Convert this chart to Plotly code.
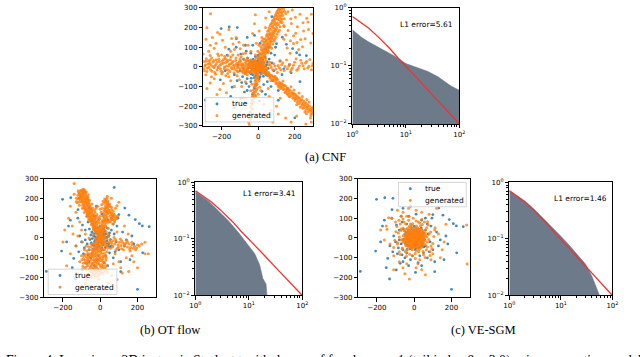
import plotly.graph_objects as go

W, H = 640, 357

# ---- scatter samples (x, y) ----
# the "true" samples are the same in all three panels
true_pts = [
    (5, 3), (-8, 12), (12, -6), (-15, -10), (20, 15), (-3, -22), (25, -2), (-25, 5), (8, 28), (-12, -30),
    (30, 20), (-30, -18), (15, -35), (-20, 25), (35, -15), (-35, 10), (2, 40), (-5, -42), (40, 5), (-42, -3),
    (18, 45), (-28, 38), (45, -30), (-40, -35), (10, -50), (-50, 15), (50, 25), (-15, 52), (28, -48), (-48, -25),
    (55, -8), (-55, -8), (0, 58), (6, -60), (-22, -55), (60, 40), (38, 50), (-58, 45), (52, -45), (-38, -58),
    (3, -12), (-6, 6), (14, 9), (-18, -2), (9, -18), (22, -20), (-10, 18), (17, 27), (-26, -12), (33, 3),
    (-33, 22), (26, 36), (-14, -45), (42, -40), (-45, 30), (47, 12), (-4, 30), (12, -28), (-30, -40), (36, -30),
    (-65, 80), (-80, 40), (90, 60), (60, 100), (-30, 110), (10, 120), (-120, 100), (-60, -60), (30, -90), (110, -120),
    (-10, -90), (-110, 10), (-100, -20), (-130, -40), (-90, -80), (-50, -100), (-30, -140), (40, -140), (70, -100),
    (100, -60), (130, -40), (60, -40), (120, 30), (140, -10), (-75, -128), (21, -125), (-70, -30), (-85, -50),
    (-60, -120), (-40, -75), (-20, -110), (80, -70), (75, 20), (85, -20), (-95, 65), (-70, 110), (50, -75),
    (-115, -70), (-65, -85), (95, 100), (40, 90), (-40, 70), (70, 70), (-80, -10),
    (-202, 195), (-158, 203), (-114, 200), (75, 255), (132, 151), (-119, 143), (154, 115), (100, 118), (188, 93),
    (263, 57), (226, 61), (210, 72), (-207, -66), (-142, -103), (-96, -161), (-132, -207), (-289, -169),
    (200, -259), (228, -75), (7, -174), (-160, 90), (-170, 60), (-60, 150), (-20, 160), (170, 10), (160, -110),
    (-150, -150), (110, -170), (-180, -20), (180, -30),
]

cnf_pts = [
    # up-right wedge
    (3, 8), (12, 14), (-4, 22), (9, 27), (18, 24), (6, 38), (21, 36), (14, 47), (27, 44), (2, 52), (19, 58),
    (33, 55), (11, 66), (26, 69), (38, 63), (22, 78), (35, 83), (44, 74), (17, 88), (41, 92), (29, 97), (52, 88),
    (37, 106), (48, 102), (24, 112), (58, 110), (43, 119), (33, 127), (55, 124), (64, 118), (47, 135), (61, 139),
    (38, 143), (70, 131), (53, 151), (66, 148), (77, 142), (45, 158), (59, 163), (73, 157), (82, 168), (64, 174),
    (52, 181), (79, 183), (88, 176), (69, 192), (91, 194), (60, 199), (76, 205), (97, 188), (84, 214), (70, 220),
    (99, 209), (89, 228), (104, 224), (78, 236), (95, 242), (112, 238), (86, 251), (103, 257), (118, 250),
    (96, 266), (110, 271), (125, 262), (104, 283), (121, 288), (132, 279), (115, 296), (138, 294), (127, 274),
    (31, 18), (42, 31), (8, 71), (15, 101), (28, 140), (56, 78), (74, 95), (86, 130), (97, 151), (109, 178),
    (120, 204), (131, 226), (143, 245), (150, 271),
    (7, 18), (15, 33), (24, 29), (10, 46), (30, 50), (18, 66), (33, 72), (47, 81), (26, 87), (43, 99), (57, 96),
    (31, 117), (51, 113), (67, 128), (42, 130), (57, 143), (74, 149), (49, 166), (67, 162), (84, 158), (58, 186),
    (75, 170), (93, 182), (66, 210), (83, 199), (102, 196), (77, 226), (94, 219), (111, 214), (86, 240),
    (105, 246), (121, 226), (92, 258), (114, 262), (129, 244), (100, 275), (117, 279), (134, 262), (110, 292),
    (128, 298), (144, 283), (124, 236), (139, 210), (116, 186), (103, 166), (90, 140), (80, 116), (66, 104),
    (52, 72), (40, 45), (-10, 45), (-2, 80), (5, 110), (20, 130), (-15, 60),
    # upper right spray
    (158, 96), (176, 133), (163, 185), (193, 158), (214, 204), (232, 139), (248, 183), (272, 228), (265, 247),
    (203, 252), (181, 221), (151, 162), (242, 102), (287, 121), (221, 88), (193, 119), (142, 205), (162, 281),
    (291, 268), (174, 69), (205, 171), (256, 143), (228, 268), (275, 190), (186, 290), (299, 170), (212, 124),
    (140, 140), (245, 225), (178, 245),
    # left arm
    (-6, 4), (-13, -6), (-19, 9), (-24, -2), (-31, 14), (-36, -9), (-42, 5), (-47, 19), (-53, -4), (-58, 11),
    (-64, -14), (-69, 24), (-73, 3), (-79, -7), (-84, 16), (-91, 6), (-96, -18), (-102, 27), (-107, 9),
    (-113, -5), (-118, 19), (-124, 33), (-129, -12), (-135, 8), (-141, 22), (-146, -3), (-152, 36), (-157, 14),
    (-163, -16), (-168, 27), (-174, 5), (-179, 41), (-185, -9), (-191, 18), (-196, 30), (-202, -22), (-208, 8),
    (-214, 39), (-219, -4), (-225, 23), (-231, 12), (-237, -28), (-243, 33), (-248, 2), (-254, 45), (-260, -14),
    (-265, 19), (-271, 30), (-277, -6), (-283, 41), (-288, 11), (-294, -20), (-298, 28), (-27, 21), (-39, -21),
    (-51, 29), (-61, -27), (-76, 36), (-88, -24), (-99, 40), (-110, -25), (-121, 45), (-132, -30), (-149, 50),
    (-166, -33), (-183, 53), (-199, -35), (-216, 55), (-233, -38), (-262, 58), (-286, -40), (-16, 30),
    (-44, -30), (-71, -35), (-93, 52), (-138, 60), (-177, -45), (-221, 66), (-255, -50), (-8, -14), (-21, -18),
    (-34, 26), (-57, 33), (-82, -31),
    (-10, -3), (-16, 12), (-27, -6), (-33, 7), (-45, -4), (-49, 12), (-56, 3), (-62, -6), (-67, 15), (-76, -12),
    (-81, 8), (-87, -4), (-93, 14), (-100, -8), (-105, 20), (-112, 2), (-117, -20), (-123, 10), (-131, 1),
    (-137, 28), (-143, -9), (-149, 16), (-155, -24), (-161, 4), (-167, 34), (-172, -14), (-178, 22), (-184, 0),
    (-189, 38), (-194, -26), (-201, 16), (-206, -10), (-212, 27), (-218, 0), (-224, -16), (-229, 36), (-236, 5),
    (-241, -4), (-247, 24), (-252, -22), (-258, 10), (-263, 35), (-269, -2), (-274, 13), (-280, -24), (-286, 29),
    (-291, 4), (-297, -8), (-20, -26), (-35, -30), (-50, -25), (-64, 33), (-40, 36), (-80, -20), (-95, 30),
    (-60, -20), (-30, 30), (-70, -25),
    # down-right arm
    (8, -9), (15, -5), (19, -17), (26, -13), (31, -26), (38, -20), (44, -36), (49, -27), (55, -45), (61, -37),
    (66, -52), (72, -43), (77, -63), (83, -52), (88, -70), (94, -62), (99, -79), (105, -66), (110, -88),
    (116, -78), (121, -96), (127, -84), (132, -104), (138, -93), (143, -113), (149, -99), (154, -120),
    (160, -108), (165, -131), (171, -116), (176, -138), (182, -127), (187, -146), (193, -134), (198, -155),
    (204, -141), (209, -163), (215, -150), (220, -172), (226, -158), (231, -179), (237, -166), (242, -190),
    (248, -174), (253, -198), (259, -183), (264, -207), (270, -192), (275, -216), (281, -200), (286, -226),
    (292, -211), (297, -236), (23, -31), (47, -14), (69, -71), (92, -48), (113, -104), (135, -72), (157, -138),
    (179, -101), (201, -171), (223, -133), (244, -210), (266, -166), (288, -247), (210, -193), (255, -229),
    (278, -178), (241, -150), (196, -118), (168, -150), (285, -260), (263, -238), (299, -205), (146, -130),
    (124, -110), (230, -205),
    (13, -15), (22, -8), (34, -31), (41, -14), (52, -41), (58, -28), (64, -58), (75, -48), (81, -71), (90, -55),
    (97, -85), (102, -61), (108, -96), (119, -83), (125, -104), (131, -88), (137, -115), (144, -95), (151, -127),
    (158, -111), (163, -140), (169, -121), (175, -150), (184, -134), (190, -160), (195, -139), (202, -162),
    (207, -148), (213, -180), (219, -160), (224, -188), (233, -170), (239, -196), (246, -183), (251, -208),
    (257, -190), (262, -221), (269, -204), (274, -228), (283, -215), (289, -238), (295, -222),
    # right band
    (34, 4), (48, -8), (57, 11), (71, -3), (85, 16), (96, -12), (109, 7), (123, -15), (134, 21), (147, 2),
    (159, -10), (172, 14), (186, -6), (199, 24), (211, -17), (225, 5), (238, 19), (251, -9), (264, 28), (277, 3),
    (291, -14), (299, 17), (63, 24), (118, 30), (176, -25), (232, 34), (282, 38), (104, -28), (155, 35), (207, 42),
    (42, -2), (66, 8), (79, -14), (92, 5), (116, -4), (128, 11), (141, -18), (167, 4), (181, -14), (193, 9),
    (218, -8), (245, 6), (258, 20), (271, -6), (296, 6),
    # down arm
    (-3, -12), (-7, -24), (2, -31), (-11, -38), (-5, -47), (-14, -55), (-2, -63), (-17, -70), (-9, -79),
    (-20, -86), (-12, -95), (-23, -102), (-6, -110), (-26, -118), (-15, -126), (-29, -134), (-19, -143),
    (-32, -151), (-22, -160), (-36, -169), (-27, -178), (-33, -192), (-41, -203), (-30, -215), (-44, -228),
    (-38, -241), (-47, -256), (-42, -270), (-51, -284), (-48, -297), (4, -72), (-35, -88), (8, -104),
    (-41, -121), (-1, -139), (1, -20), (-9, -33), (-4, -54), (-13, -66), (-7, -88), (-18, -98), (-10, -117),
    (-22, -130), (-14, -148), (-26, -156), (-31, -172), (-37, -185), (-35, -212), (-41, -234), (-45, -248),
    (-49, -262),
    # core
    (0, 0), (4, -3), (-4, 3), (7, 2), (-7, -2), (2, 7), (-2, -7), (10, -6), (-10, 6), (6, 10), (-6, -10),
    (13, 1), (-13, -1), (1, 13), (-1, -13), (11, 11), (-11, -11), (15, -9), (-15, 9), (16, 6), (-16, -6),
    (5, -16), (-5, 16), (20, -4), (-20, 4), (8, 20), (-8, -20), (22, 14), (-22, -14), (18, -20), (-18, 20),
    (26, 4), (-26, -4), (25, 15), (-25, -15), (30, -10), (-30, 10), (12, 28), (-12, -28), (33, 22), (-33, -22),
    (-28, 25), (28, -25), (20, 32), (-20, -32), (38, 5), (-38, -5), (5, 36), (-5, -36), (-40, 20), (40, -20),
    (-18, 35), (18, -35),
    # sparse
    (-280, 199), (-209, 166), (-137, 117), (-84, 67), (-250, 150), (-180, 100), (-230, 120), (-150, 80),
    (-110, 60), (-60, 45), (-200, 60), (-270, 80), (-120, 150), (-80, 110), (-40, 80), (-160, 190), (-260, 270),
    (-285, 140), (-240, 95), (-195, 135), (-165, 58), (-130, 88), (-98, 92), (-70, 70), (-222, 175), (-145, 145),
    (-105, 125), (-262, 110), (-55, 110), (-300, 65),
    (-209, -115), (-173, -132), (-262, -82), (-102, -65), (-150, -70), (-60, -40), (-90, -100), (-130, -100),
    (-240, -60), (-80, -160), (-120, -190), (-190, -85), (-280, -110), (-160, -50), (-225, -140), (-115, -45),
    (-70, -75), (41, 249), (5, 182), (-20, 220), (60, 280), (20, 150), (-10, 120), (-30, 170), (40, 200),
    (-15, 265), (60, -150), (100, -200), (40, -250), (150, -260), (120, -160), (80, -280), (30, -190), (70, -220),
    (110, -240), (15, -120), (55, -110), (180, -280), (210, -250), (260, -290), (290, -280),
]

ot_pts = [
    # upper-left arm
    (-4, 6), (-12, 14), (2, 18), (-9, 27), (-18, 31), (-3, 38), (-15, 44), (-25, 40), (-10, 52), (-22, 57),
    (-31, 50), (-17, 66), (-29, 71), (-38, 64), (-21, 80), (-34, 84), (-44, 77), (-27, 93), (-40, 97), (-50, 90),
    (-33, 106), (-46, 110), (-56, 104), (-38, 119), (-52, 123), (-62, 116), (-44, 132), (-58, 136), (-68, 129),
    (-50, 145), (-64, 149), (-74, 142), (-56, 158), (-70, 162), (-80, 155), (-62, 171), (-76, 175), (-86, 168),
    (-68, 184), (-82, 188), (-92, 181), (-74, 197), (-88, 201), (-98, 194), (-80, 210), (-94, 214), (-104, 207),
    (-86, 223), (-100, 227), (-110, 220), (-92, 236), (-105, 240), (-118, 196), (-124, 178), (-112, 165),
    (-96, 150), (-85, 128), (-72, 110), (-60, 88), (-48, 68), (-36, 48), (-100, 180), (-128, 184), (-96, 233),
    (-88, 244), (-115, 230), (-79, 228), (-66, 206), (-58, 190), (-45, 172), (-39, 150), (-28, 128), (-20, 108),
    (-8, 18), (-20, 22), (-27, 35), (-12, 36), (-34, 58), (-24, 48), (-43, 70), (-31, 78), (-53, 83), (-36, 90),
    (-47, 100), (-62, 96), (-41, 112), (-58, 114), (-67, 122), (-48, 125), (-61, 130), (-73, 136), (-55, 140),
    (-78, 148), (-63, 156), (-86, 160), (-72, 168), (-57, 165), (-90, 173), (-79, 180), (-64, 192), (-96, 188),
    (-85, 195), (-72, 205), (-102, 200), (-91, 208), (-78, 218), (-107, 214), (-97, 222), (-84, 232),
    (-112, 226), (-102, 236), (-93, 246), (-118, 238),
    (-14, 25), (-6, 30), (-23, 45), (-30, 60), (-39, 55), (-18, 74), (-45, 86), (-26, 102), (-52, 96),
    (-35, 115), (-65, 110), (-44, 140), (-70, 120), (-53, 152), (-81, 140), (-60, 178), (-88, 150), (-67, 196),
    (-95, 165), (-76, 186), (-99, 210), (-83, 240), (-110, 205), (-120, 215), (-91, 228), (-106, 190),
    (-113, 180), (-128, 200), (-75, 232), (-64, 218), (-5, 45), (0, 62), (-12, 84), (-2, 96), (-18, 118),
    (-10, 100), (-30, 140), (-22, 150), (0, 145), (-14, 160),
    # upper-right arm
    (4, 12), (10, 25), (1, 33), (14, 41), (7, 54), (19, 60), (11, 72), (24, 77), (15, 90), (28, 95), (19, 108),
    (31, 114), (22, 126), (34, 132), (25, 144), (37, 150), (28, 162), (40, 168), (31, 180), (42, 186), (24, 196),
    (36, 200), (48, 140), (56, 128), (64, 117), (72, 106), (80, 96), (52, 110), (62, 98), (45, 92), (38, 75),
    (30, 58), (22, 40), (70, 135), (82, 150), (90, 162), (60, 155), (50, 172), (12, 150), (5, 130), (-2, 110),
    (8, 168), (16, 185), (-8, 92), (-5, 75), (55, 80), (68, 70), (44, 48),
    (8, 20), (17, 31), (6, 46), (20, 50), (12, 63), (27, 66), (17, 82), (31, 86), (22, 100), (36, 104), (26, 117),
    (40, 122), (30, 136), (44, 142), (34, 155), (46, 158), (36, 172), (27, 186), (42, 177), (58, 118), (66, 108),
    (50, 130), (75, 120), (84, 108), (62, 144), (48, 82), (58, 92), (76, 90),
    (2, 22), (13, 34), (21, 56), (8, 80), (25, 88), (14, 112), (33, 98), (20, 136), (39, 128), (27, 150),
    (45, 165), (32, 192), (20, 175), (38, 210), (52, 160), (63, 125), (71, 115), (88, 98), (66, 92), (77, 80),
    (93, 110),
    # lower block
    (-2, -8), (-10, -15), (6, -20), (-18, -24), (-4, -31), (12, -36), (-24, -38), (-12, -44), (3, -50),
    (-30, -53), (-16, -58), (16, -61), (-6, -66), (-38, -68), (-22, -73), (8, -78), (-12, -83), (-46, -84),
    (-28, -89), (20, -92), (-3, -96), (-54, -99), (-18, -103), (-36, -108), (10, -111), (-62, -114), (-8, -118),
    (-26, -122), (-44, -126), (24, -128), (-14, -133), (-70, -131), (-32, -138), (0, -142), (-52, -144),
    (-20, -149), (-78, -148), (14, -152), (-38, -156), (-8, -160), (-26, -165), (28, -166), (-60, -162),
    (-16, -172), (-44, -176), (-4, -180), (-86, -156), (-30, -186), (-14, -195), (-6, -208), (-48, -45),
    (-58, -60), (-66, -78), (-74, -95), (-82, -112), (-90, -128), (-93, -144), (-100, -90), (-110, -120),
    (-85, -60), (-75, -40), (-95, -20), (30, -112), (34, -140), (38, -175), (26, -40), (36, -70),
    (-6, -12), (8, -26), (-14, -32), (-26, -30), (2, -40), (-20, -48), (-8, -55), (10, -56), (-34, -60),
    (-28, -66), (-14, -68), (2, -72), (-42, -76), (-4, -86), (-20, -92), (12, -94), (-36, -96), (-48, -92),
    (-10, -106), (-28, -110), (2, -114), (-50, -112), (-18, -124), (14, -120), (-38, -130), (-58, -128),
    (-6, -130), (-24, -142), (-44, -150), (6, -148), (-68, -140), (-12, -156), (-32, -160), (4, -166),
    (-52, -168), (-22, -178), (-36, -182), (-10, -186), (18, -140), (-60, -90), (-70, -108), (-80, -124),
    (22, -78), (30, -90), (20, -170),
    (-3, -20), (14, -28), (-22, -18), (-32, -44), (-16, -52), (6, -62), (-26, -80), (-40, -86), (-2, -104),
    (16, -104), (-32, -120), (-14, -112), (-46, -138), (-30, -150), (-2, -168), (-18, -160), (-56, -154),
    (-40, -166), (8, -134), (-64, -100), (-54, -80), (-44, -60), (-36, -30), (-50, -30), (-62, -44), (-72, -66),
    (-80, -84), (-90, -104), (-98, -110), (-86, -90), (-68, -120), (-76, -162), (-60, -180), (-28, -198),
    (-44, -190), (14, -182), (26, -150), (32, -100), (24, -60), (40, -50),
    # right arm
    (18, -6), (27, -18), (35, -4), (44, -22), (52, -10), (61, -27), (69, -14), (78, -31), (86, -17), (95, -34),
    (103, -21), (112, -38), (120, -24), (129, -42), (137, -27), (146, -45), (154, -31), (163, -48), (171, -34),
    (178, -52), (45, 8), (74, 2), (108, -5), (142, -12), (92, -52), (125, -60), (160, -66), (223, -30),
    (240, -79), (190, -60), (170, -90), (200, -35), (65, -45),
    (25, -28), (38, -38), (57, -20), (68, -40), (82, -8), (98, -46), (115, -14), (130, -32), (146, -20),
    (158, -56), (170, -22), (184, -42), (196, -50), (210, -40), (55, -52), (85, -60), (115, -55),
    # core
    (0, 0), (6, 4), (-6, -4), (5, -7), (-5, 7), (12, 8), (-12, -8), (10, -12), (-10, 12), (16, -2), (-16, 2),
    (3, 16), (-3, -16), (22, 12), (-22, -14), (20, -22), (-20, 22), (28, 4), (-28, -4), (32, 30), (-34, -28),
    (40, 20), (-40, 18), (36, -36), (-36, 40),
    # sparse
    (-146, 20), (-120, 10), (-100, 40), (-80, 20), (-60, 0), (-130, -40), (-160, -80), (-150, 60), (-200, -20),
    (-110, 80), (118, -177), (153, -169), (90, -210), (60, -190), (-50, -200), (-80, -230), (40, -230),
    (100, -120), (80, -80), (180, -120), (-140, 220), (-160, 160), (-130, 130), (60, 200), (100, 180),
    (-140, 275), (258, -79), (240, -21), (-180, -140), (-120, -180), (-60, -240), (20, -260), (110, -150),
    (140, -100), (200, -150), (-170, 100), (130, 60), (90, 30), (150, 20), (-190, 40), (-70, -210), (70, -130),
]

ve_pts = [
    # dense core
    (0, 0), (10, 5), (-10, -5), (5, -12), (-5, 12), (20, 0), (-20, 0), (0, 20), (0, -20), (15, 15), (-15, -15),
    (15, -15), (-15, 15), (28, 8), (-28, -8), (8, 28), (-8, -28), (25, -20), (-25, 20), (30, 25), (-30, -25),
    (35, -5), (-35, 5), (5, 38), (-5, -38), (20, 35), (-20, -35), (38, -25), (-38, 25), (40, 15), (-40, -15),
    (12, -42), (-12, 42), (-28, 38), (28, -38), (45, -10), (-45, 10), (48, 30), (-48, -30), (30, 45), (-30, -45),
    (10, 50), (-10, -52), (50, -35), (-50, 35), (55, 5), (-55, -5), (-20, 55), (20, -55), (40, 40), (-40, -40),
    (42, -45), (-42, 45), (3, 8), (-7, 3), (12, -3), (-3, -8), (22, 12), (-22, -12), (18, -28), (-18, 28),
    (32, -12), (-32, 12), (8, 18), (-8, -18), (25, 0), (-25, 0), (0, 30), (0, -30),
    (6, -4), (-3, 15), (17, -8), (-12, -20), (24, 18), (-26, 11), (9, -33), (-17, -41), (33, -33), (-33, 33),
    (44, 2), (-44, -2), (2, 47), (-2, -47), (52, 18), (-52, -18), (18, 52), (-18, -52), (36, -48), (-36, 48),
    (50, -20), (-50, 20), (27, -58), (-27, 58), (58, -12), (-58, 12), (45, 38), (-45, -38), (11, 60),
    (-11, -60), (60, 25), (-60, -22),
    (-18, -46), (-7, -44), (4, -45), (15, -47), (-30, -36), (-20, -37), (-11, -35), (-1, -37), (9, -36),
    (19, -38), (29, -35), (-38, -27), (-28, -28), (-17, -26), (-9, -29), (2, -27), (12, -26), (21, -28),
    (33, -26), (41, -28), (-44, -18), (-34, -19), (-24, -17), (-14, -18), (-4, -19), (7, -17), (16, -19),
    (26, -18), (36, -17), (45, -19), (-47, -9), (-37, -8), (-27, -10), (-18, -9), (-6, -8), (3, -10), (13, -9),
    (23, -8), (32, -10), (42, -9), (50, -8), (-49, 1), (-39, -1), (-30, 2), (-10, 1), (11, -1), (31, 1), (40, 2),
    (49, -1), (-46, 9), (-36, 10), (-27, 8), (-17, 9), (-6, 10), (4, 8), (14, 10), (24, 9), (33, 8), (43, 10),
    (51, 9), (-43, 18), (-33, 17), (-24, 19), (-13, 18), (-3, 17), (8, 19), (17, 18), (27, 17), (37, 19),
    (46, 18), (-39, 27), (-29, 28), (-19, 26), (-9, 27), (1, 28), (11, 26), (21, 27), (31, 28), (40, 26),
    (-31, 36), (-21, 35), (-11, 37), (-2, 36), (9, 35), (19, 37), (28, 36), (-19, 45), (-8, 44), (3, 46),
    (14, 45), (24, 44),
    # halo
    (60, 40), (-60, 50), (70, -20), (-70, -10), (65, -60), (-65, -55), (-20, 70), (30, 75), (-40, -75),
    (25, -70), (80, 20), (-85, 25), (-75, 70), (75, 65), (-30, 90), (50, -85), (-90, -30), (90, -40), (10, 85),
    (-10, -90), (-55, 80), (55, 80), (85, -70), (-80, -70), (68, 5), (-72, 38), (5, -78), (-48, -68),
    (44, 68), (-8, 72),
    (62, 12), (-63, -8), (57, -33), (-55, 38), (34, 62), (-38, -60), (12, -66), (-14, 64), (71, -45), (-69, 45),
    (48, -68), (-46, 70), (78, -8), (-80, 5), (66, 52), (-64, -50), (22, 80), (-24, -82), (88, 30), (-88, -24),
    (95, -55), (-93, 58), (40, 95), (-42, -92), (-5, 100), (6, -104), (105, 8), (-104, -12), (72, 82),
    (-75, -84), (58, -98), (-60, 96), (100, -28), (-98, 32), (30, -110), (-28, 108), (112, 52), (-110, -48),
    (85, -88), (-82, 90),
    # outer
    (-90, 140), (-60, 130), (-30, 150), (10, 140), (40, 130), (80, 120), (120, 150), (170, 69), (281, 66),
    (284, -131), (-26, -207), (60, -185), (-150, 60), (-180, 40), (-130, -30), (-110, -90), (-60, -150),
    (20, -130), (100, -80), (150, -60), (130, 20), (110, 40), (-100, 80), (-120, 100), (-70, 110), (-40, 110),
    (-80, -120), (-40, -130), (10, -150), (90, -110), (140, -100), (160, -20), (-160, -10), (-137, 102),
    (-146, 44), (-110, -160), (40, -160), (-50, -180),
]

# ---- complementary CDF of the radius (log-log panels) ----
true_r = [1, 1.5, 2, 3, 5, 7, 10, 15, 20, 30, 50, 70, 100]
true_ccdf = [0.71, 0.55, 0.45, 0.32, 0.2, 0.14, 0.1, 0.066, 0.05, 0.033, 0.02, 0.014, 0.01]

cnf_r = [1, 1.2, 1.5, 2, 3, 4, 6, 10, 15, 26, 40, 53, 70, 100]
cnf_ccdf = [0.42, 0.36, 0.31, 0.26, 0.21, 0.185, 0.15, 0.11, 0.095, 0.08, 0.065, 0.054, 0.045, 0.038]

ot_r = [1, 1.8, 2.75, 4.2, 6.4, 9.7, 12.9, 15.9, 18.3, 21, 21.9, 22.2]
ot_ccdf = [0.69, 0.46, 0.31, 0.207, 0.13, 0.077, 0.055, 0.035, 0.02, 0.016, 0.01, 0.008]

ve_r = [1, 1.5, 2, 3, 5, 7, 10, 15, 20, 30, 40, 50, 56, 62]
ve_ccdf = [0.72, 0.57, 0.47, 0.34, 0.215, 0.16, 0.112, 0.075, 0.056, 0.036, 0.022, 0.0135, 0.0105, 0.008]

l1_errors = ["5.61", "3.41", "1.46"]
captions = ["(a) CNF", "(b) OT flow", "(c) VE-SGM"]
legend_labels = ["true", "generated"]
fig_caption = ("Figure 4: Learning a 2D isotropic Student t with degree of freedom \u03bd = 1 "
               "(tail index \u03b2 = 3.0) using generative models. The left panels show samples")

BLUE = "#1f77b4"
ORANGE = "#ff7f0e"
GRAY = "#6c7a89"
RED = "#ee3333"
TICKFONT = dict(family="DejaVu Sans", size=7, color="black")


def fx(p):
    return p / W


def fy(p):
    return 1 - p / H


# panel boxes in pixels: (left, right, top, bottom)
scatter_boxes = [(201, 313, 3, 124), (39, 153, 178, 300), (359, 473, 178, 300)]
ccdf_boxes = [(353, 462, 3, 122), (193, 302, 182, 298), (513, 618, 182, 298)]
legend_boxes = [(203, 273, 95, 120), (43, 113, 271, 297), (400, 469, 182, 207)]
gen_sets = [cnf_pts, ot_pts, ve_pts]
ccdf_sets = [(cnf_r, cnf_ccdf), (ot_r, ot_ccdf), (ve_r, ve_ccdf)]

fig = go.Figure()
layout = {}
shapes = []
annotations = []

for i in range(3):
    sx = 2 * i + 1
    cx = 2 * i + 2
    sfx = "" if sx == 1 else str(sx)
    cfx = str(cx)

    # scatter panel
    fig.add_trace(go.Scatter(
        x=[p[0] for p in true_pts], y=[p[1] for p in true_pts], mode="markers", name="true",
        marker=dict(color=BLUE, size=2.8, opacity=0.85, line_width=0),
        xaxis="x" + sfx, yaxis="y" + sfx, showlegend=False,
    ))
    gen = gen_sets[i]
    fig.add_trace(go.Scatter(
        x=[p[0] for p in gen], y=[p[1] for p in gen], mode="markers", name="generated",
        marker=dict(color=ORANGE, size=3, opacity=0.8, line_width=0),
        xaxis="x" + sfx, yaxis="y" + sfx, showlegend=False,
    ))
    l, r, t, b = scatter_boxes[i]
    layout["xaxis" + sfx] = dict(domain=[fx(l), fx(r)], anchor="y" + sfx, range=[-300, 300],
                                 tickvals=[-200, 0, 200])
    layout["yaxis" + sfx] = dict(domain=[fy(b), fy(t)], anchor="x" + sfx, range=[-300, 300],
                                 tickvals=[-300, -200, -100, 0, 100, 200, 300])

    # legend box drawn by hand (matplotlib-style, compact)
    l, r, t, b = legend_boxes[i]
    shapes.append(dict(type="rect", xref="paper", yref="paper", x0=fx(l), x1=fx(r), y0=fy(b), y1=fy(t),
                       fillcolor="rgba(255,255,255,0.8)", line=dict(color="#cccccc", width=0.8)))
    for j, (lab, col) in enumerate(zip(legend_labels, [BLUE, ORANGE])):
        yy = t + 6.5 + 12 * j
        shapes.append(dict(type="circle", xref="paper", yref="paper", x0=fx(l + 10.5), x1=fx(l + 13.5),
                           y0=fy(yy + 1.5), y1=fy(yy - 1.5), fillcolor=col, line_width=0, opacity=0.85))
        annotations.append(dict(x=fx(l + 25), y=fy(yy), xref="paper", yref="paper", xanchor="left",
                                yanchor="middle", showarrow=False, text=lab,
                                font=dict(family="DejaVu Sans", size=7.5, color="black")))

    # ccdf panel
    rr, cc = ccdf_sets[i]
    fig.add_trace(go.Scatter(
        x=rr, y=cc, mode="lines", fill="tozeroy", fillcolor=GRAY, line=dict(color=GRAY, width=0.5),
        xaxis="x" + cfx, yaxis="y" + cfx, showlegend=False,
    ))
    fig.add_trace(go.Scatter(
        x=true_r, y=true_ccdf, mode="lines", line=dict(color=RED, width=1.3),
        xaxis="x" + cfx, yaxis="y" + cfx, showlegend=False,
    ))
    l, r, t, b = ccdf_boxes[i]
    layout["xaxis" + cfx] = dict(
        domain=[fx(l), fx(r)], anchor="y" + cfx, type="log", range=[0, 2],
        tickvals=[1, 10, 100], ticktext=["10<sup>0</sup>", "10<sup>1</sup>", "10<sup>2</sup>"],
        minor=dict(tickvals=[2, 3, 4, 5, 6, 7, 8, 9, 20, 30, 40, 50, 60, 70, 80, 90],
                   ticks="outside", ticklen=2, tickcolor="black", tickwidth=0.6),
    )
    layout["yaxis" + cfx] = dict(
        domain=[fy(b), fy(t)], anchor="x" + cfx, type="log", range=[-2, 0],
        tickvals=[0.01, 0.1, 1], ticktext=["10<sup>\u22122</sup>", "10<sup>\u22121</sup>", "10<sup>0</sup>"],
        minor=dict(tickvals=[0.02, 0.03, 0.04, 0.05, 0.06, 0.07, 0.08, 0.09,
                             0.2, 0.3, 0.4, 0.5, 0.6, 0.7, 0.8, 0.9],
                   ticks="outside", ticklen=2, tickcolor="black", tickwidth=0.6),
    )

for k, v in layout.items():
    v.update(showline=True, mirror=True, linecolor="black", linewidth=0.8, showgrid=False,
             zeroline=False, ticks="outside", ticklen=3.5, tickwidth=0.8, tickcolor="black",
             tickfont=TICKFONT)

l1_pos = [(458, 20), (298, 193), (615, 198)]
for (x, y), err in zip(l1_pos, l1_errors):
    annotations.append(dict(x=fx(x), y=fy(y), xref="paper", yref="paper", xanchor="right",
                            yanchor="middle", showarrow=False, text="L1 error=" + err,
                            font=dict(family="DejaVu Sans", size=7.5, color="black")))
cap_pos = [(326, 156), (167, 333), (487, 333)]
for (x, y), cap in zip(cap_pos, captions):
    annotations.append(dict(x=fx(x), y=fy(y), xref="paper", yref="paper", xanchor="center",
                            yanchor="middle", showarrow=False, text=cap,
                            font=dict(family="Liberation Serif", size=12.5, color="black")))
annotations.append(dict(x=fx(-2), y=fy(355), xref="paper", yref="paper", xanchor="left",
                        yanchor="top", showarrow=False, text=fig_caption,
                        font=dict(family="Liberation Serif", size=13.7, color="black")))

fig.update_layout(
    width=W, height=H, margin=dict(l=0, r=0, t=0, b=0),
    paper_bgcolor="white", plot_bgcolor="white", showlegend=False,
    shapes=shapes, annotations=annotations, **layout,
)

# the page body has a default 8px margin; drop it so the figure sits at the window's corner
fig.write_html("out.html", config={"displayModeBar": False},
               post_script="document.body.style.margin='0';document.body.style.overflow='hidden';")
